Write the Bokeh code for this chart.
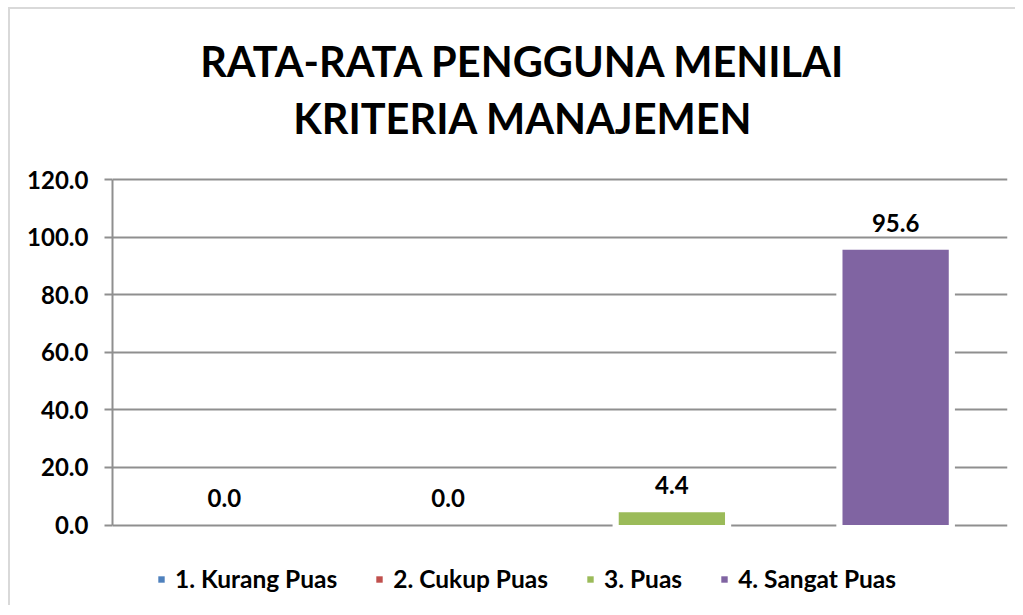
from bokeh.plotting import figure
from bokeh.models import ColumnDataSource, Range1d, FactorRange, NumeralTickFormatter, FixedTicker, LabelSet
from bokeh.core.properties import value
from bokeh.embed import file_html
from bokeh.resources import INLINE

categories = ["1. Kurang Puas", "2. Cukup Puas", "3. Puas", "4. Sangat Puas"]
values = [0.0, 0.0, 4.4, 95.6]
colors = ["#4F81BD", "#C0504D", "#9BBB59", "#8064A2"]
y_ticks = [0, 20, 40, 60, 80, 100, 120]
title_lines = ["RATA-RATA PENGGUNA MENILAI", "KRITERIA MANAJEMEN"]

FONT = "Lato"
GRID = "#8f8f8f"

src = ColumnDataSource(dict(
    cat=categories,
    val=values,
    col=colors,
    lbl=["%.1f" % v for v in values],
    back_alpha=[0.0 if v == 0 else 1.0 for v in values],
    zero=[0.0] * len(values),
    below=[-1.0] * len(values),
))

# The frame covers the whole chart area (title + plot + legend); the axis,
# ticks and grid are bounded to 0..120.
p = figure(
    frame_width=895, frame_height=596,
    x_range=FactorRange(*categories, range_padding=0),
    y_range=Range1d(-27.96, 179.05),
    output_backend="svg", toolbar_location=None,
    min_border_left=102, min_border_right=8, min_border_top=0, min_border_bottom=0,
)
p.styles = {"border-left": "2px solid #d9d9d9", "border-top": "2px solid #d9d9d9",
            "margin-left": "8px", "margin-top": "7px"}
p.outline_line_color = None
p.background_fill_color = "white"
p.border_fill_color = "white"

# title lines (placed in the area above the plotted values)
title_src = ColumnDataSource(dict(
    x=[categories[1]] * len(title_lines),
    y=[161.3, 141.2],
    text=title_lines,
))
p.add_layout(LabelSet(x="x", y="y", text="text", source=title_src, x_offset=75,
                      text_align="center", text_baseline="middle",
                      text_font=value(FONT), text_font_style="bold",
                      text_font_size="41.5px", text_color="black"))

# axes
p.xaxis.visible = False
p.xgrid.visible = False
yax = p.yaxis[0]
yax.bounds = (y_ticks[0], y_ticks[-1])
yax.ticker = FixedTicker(ticks=y_ticks)
yax.formatter = NumeralTickFormatter(format="0.0")
yax.axis_line_color = GRID
yax.axis_line_width = 2
yax.major_tick_line_color = GRID
yax.major_tick_line_width = 2
yax.major_tick_out = 8
yax.major_tick_in = 0
yax.minor_tick_line_color = None
yax.major_label_standoff = 16
yax.major_label_text_font = FONT
yax.major_label_text_font_style = "bold"
yax.major_label_text_font_size = "24px"
yax.major_label_text_color = "black"
p.ygrid.ticker = FixedTicker(ticks=y_ticks)
p.ygrid.grid_line_color = GRID
p.ygrid.grid_line_width = 2

# white backing behind bars (gap in gridlines)
p.vbar(x="cat", top="val", bottom="below", width=0.53, source=src,
       fill_color="white", fill_alpha="back_alpha", line_color=None)
bars = p.vbar(x="cat", top="val", bottom="zero", width=0.475, source=src,
              fill_color="col", line_color=None, legend_field="cat")

labels = LabelSet(x="cat", y="val", text="lbl", source=src,
                  text_align="center", text_baseline="middle", y_offset=27,
                  text_font=value(FONT), text_font_style="bold",
                  text_font_size="24px", text_color="black")
p.add_layout(labels)

legend = p.legend[0]
legend.orientation = "horizontal"
legend.border_line_color = None
legend.background_fill_alpha = 0
legend.glyph_width = 8
legend.glyph_height = 8
legend.label_standoff = 10
legend.spacing = 38
legend.padding = 0
legend.margin = 0
legend.location = (45, 12)
legend.label_text_font = FONT
legend.label_text_font_style = "bold"
legend.label_text_font_size = "24.5px"
legend.label_text_color = "black"

open("out.html", "w").write(file_html(p, INLINE))
